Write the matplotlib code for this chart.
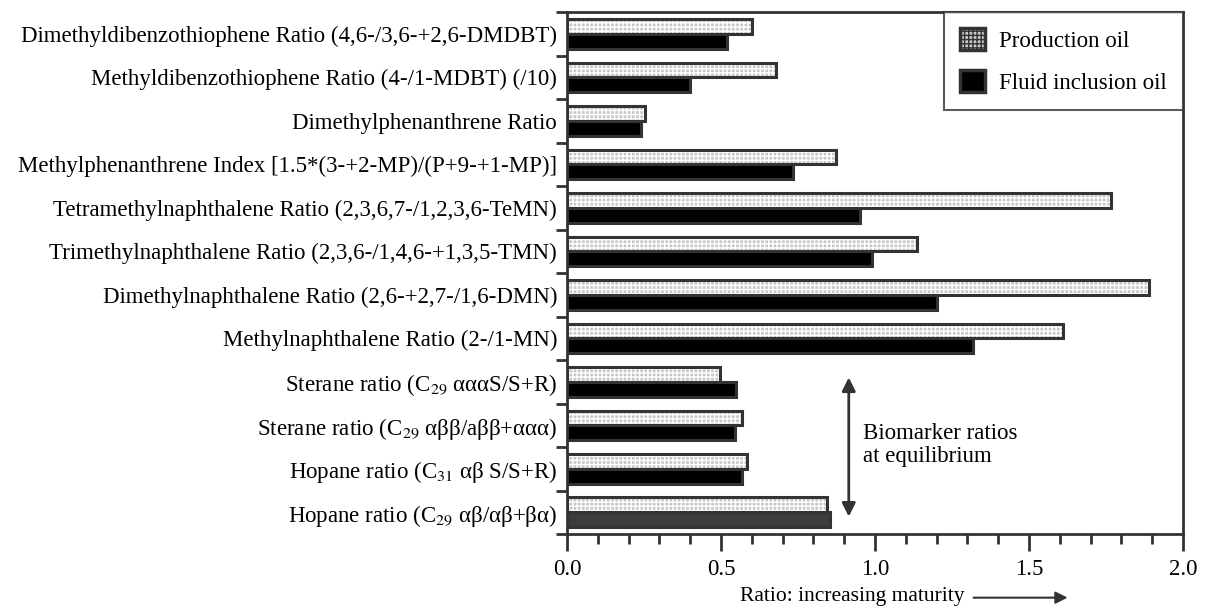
import numpy as np
import matplotlib.pyplot as plt
from matplotlib.patches import Patch
from matplotlib.ticker import MultipleLocator

plt.rcParams['font.family'] = ['Liberation Serif', 'DejaVu Serif']
plt.rcParams['mathtext.fontset'] = 'stix'

# top to bottom, as in the figure
labels = [
    'Dimethyldibenzothiophene Ratio (4,6-/3,6-+2,6-DMDBT)',
    'Methyldibenzothiophene Ratio (4-/1-MDBT) (/10)',
    'Dimethylphenanthrene Ratio',
    'Methylphenanthrene Index [1.5*(3-+2-MP)/(P+9-+1-MP)]',
    'Tetramethylnaphthalene Ratio (2,3,6,7-/1,2,3,6-TeMN)',
    'Trimethylnaphthalene Ratio (2,3,6-/1,4,6-+1,3,5-TMN)',
    'Dimethylnaphthalene Ratio (2,6-+2,7-/1,6-DMN)',
    'Methylnaphthalene Ratio (2-/1-MN)',
    'Sterane ratio (C$_{29}$ αααS/S+R)',
    'Sterane ratio (C$_{29}$ αββ/aββ+ααα)',
    'Hopane ratio (C$_{31}$ αβ S/S+R)',
    'Hopane ratio (C$_{29}$ αβ/αβ+βα)',
]
production = [0.60, 0.68, 0.255, 0.873, 1.766, 1.138, 1.889, 1.61, 0.497, 0.569, 0.585, 0.843]
fluid = [0.52, 0.40, 0.24, 0.735, 0.952, 0.99, 1.203, 1.319, 0.548, 0.545, 0.569, 0.854]

fs = 16.5
fig = plt.figure(figsize=(12.05, 6.08), dpi=100)
ax = fig.add_axes([0.4705, 0.1217, 0.5112, 0.8583])

n = len(labels)
y = np.arange(n)
h = 0.34
edge = '#333333'

# production oil: light grey with white grid, dark outline
ax.barh(y - h / 2, production, height=h, color='#c8c8c8', edgecolor='white',
        hatch='++++', linewidth=0, zorder=2)
ax.barh(y - h / 2, production, height=h, facecolor='none', edgecolor=edge,
        linewidth=2.2, zorder=3)
# fluid inclusion oil: black (last one dark grey)
fcol = ['black'] * (n - 1) + ['#3c3c3c']
ax.barh(y + h / 2, fluid, height=h, color=fcol, edgecolor=edge,
        linewidth=2.2, zorder=3)

ax.set_ylim(n - 0.5, -0.5)
ax.set_xlim(0, 2.0)
ax.set_yticks(y)
ax.set_yticklabels(labels, fontsize=fs)
ax.tick_params(axis='y', which='major', length=0, pad=7)
ax.set_yticks(np.arange(-0.5, n, 1), minor=True)
ax.tick_params(axis='y', which='minor', length=8, width=2, color=edge)

ax.xaxis.set_major_locator(MultipleLocator(0.5))
ax.xaxis.set_minor_locator(MultipleLocator(0.1))
ax.xaxis.set_major_formatter(lambda v, p: f'{v:.1f}')
ax.tick_params(axis='x', which='major', length=12, width=2, color=edge,
               labelsize=fs, pad=6)
ax.tick_params(axis='x', which='minor', length=7, width=2, color=edge)
for s in ax.spines.values():
    s.set_linewidth(2)
    s.set_color(edge)

# arrow and note for biomarker ratios
ax.annotate('', xy=(0.915, 7.9), xytext=(0.915, 11.1),
            arrowprops=dict(arrowstyle='<|-|>', color=edge, lw=2,
                            mutation_scale=20, shrinkA=0, shrinkB=0))
ax.text(0.96, 9.45, 'Biomarker ratios\nat equilibrium', fontsize=fs,
        va='center', ha='left', linespacing=1.15)

# x label with arrow
fig.text(0.614, 0.003, 'Ratio: increasing maturity', fontsize=15.5,
         ha='left', va='bottom')
ax.annotate('', xy=(0.886, 0.017), xytext=(0.808, 0.017), xycoords='figure fraction',
            arrowprops=dict(arrowstyle='-|>', color=edge, lw=1.5,
                            mutation_scale=18, shrinkA=0, shrinkB=0))

handles = [Patch(facecolor='#c8c8c8', edgecolor=edge, hatch='++++', linewidth=2.5),
           Patch(facecolor='black', edgecolor=edge, linewidth=2.5)]
leg = ax.legend(handles, ['Production oil', 'Fluid inclusion oil'],
                loc='upper right', bbox_to_anchor=(1.0, 1.0), fontsize=fs,
                frameon=True, fancybox=False, borderaxespad=0,
                handlelength=1.1, handleheight=1.1, handletextpad=0.6,
                borderpad=0.7, labelspacing=0.8)
leg.get_frame().set_edgecolor(edge)
leg.get_frame().set_linewidth(1.5)

fig.savefig('out.png', dpi=100)
